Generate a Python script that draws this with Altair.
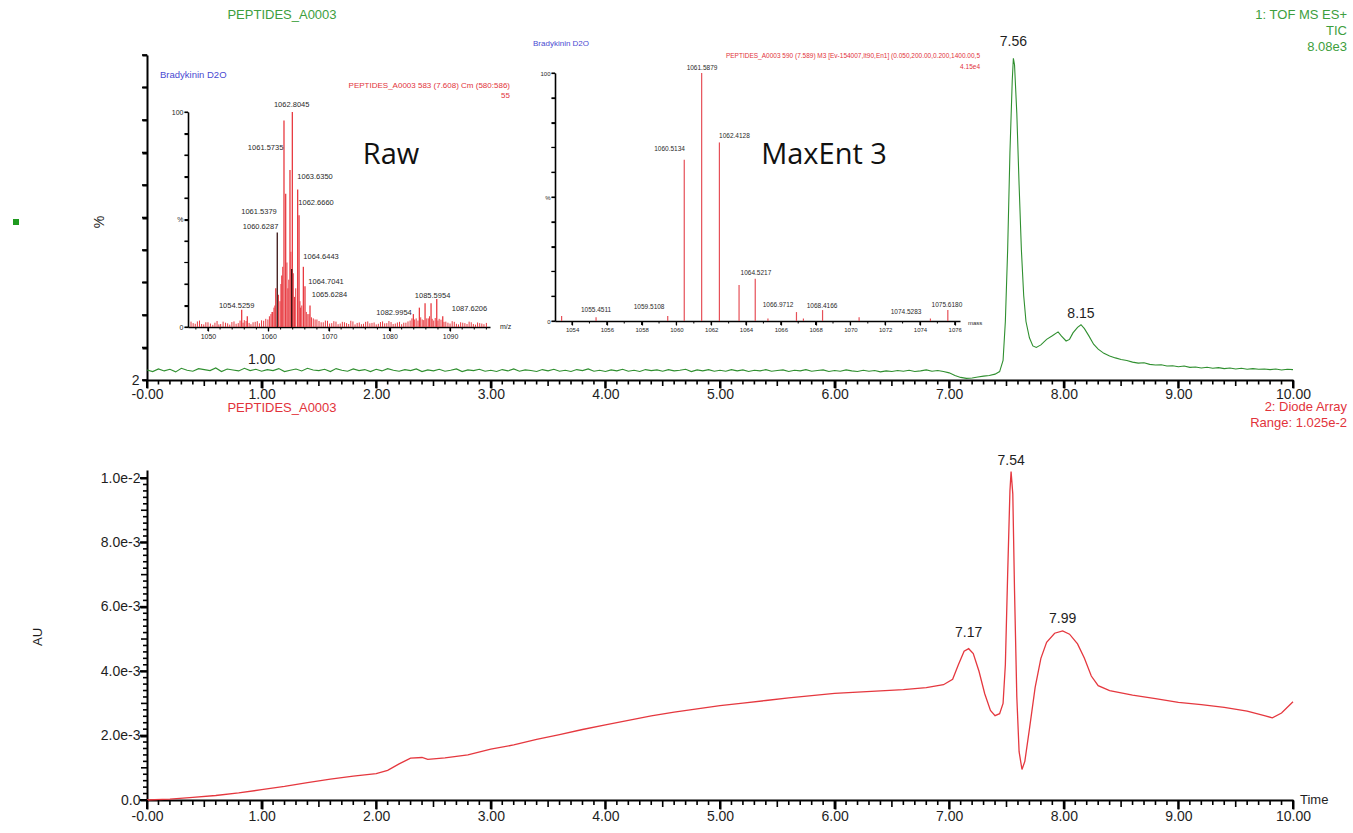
import altair as alt
import pandas as pd

# ---------------- layout (plot-area pixels) ----------------
W, H = 1146, 745
TOP_H = 325          # top panel occupies y in [0, TOP_H]
BOT_TOP = 415        # bottom panel occupies y in [BOT_TOP, H]

FONT = "Liberation Sans"
GREEN_LINE = "#2f8f2f"
GREEN_TEXT = "#3d9e3d"
RED_LINE = "#e5383f"
RED_TEXT = "#e2333b"
STICK_RED = "#e83a40"
STICK_DARK = "#3a1414"
BLUE_TEXT = "#4a4ad2"
INK = "#1e1e1e"

# ---------------- data: TIC (top trace, % of 8.08e3) ----------------
TIC_BASE_TIME = [round(i * 0.05, 2) for i in range(140)]
TIC_BASE_PCT = [
    3.1, 2.6, 3.4, 2.8, 3.3, 2.5, 3.6, 3.0, 2.7, 3.5,
    3.2, 2.9, 3.7, 2.6, 3.4, 3.1, 2.8, 3.6, 2.9, 3.3,
    2.7, 3.2, 2.9, 3.5, 2.6, 3.0, 3.4, 2.8, 3.6, 3.1,
    2.9, 3.3, 2.6, 3.5, 3.0, 2.7, 3.4, 2.9, 3.2, 2.6,
    3.3, 2.8, 3.5, 3.0, 2.7, 3.2, 2.9, 3.4, 2.6, 3.1,
    2.8, 3.3, 2.7, 3.0, 3.4, 2.6, 3.1, 2.9, 3.3, 2.7,
    3.0, 2.6, 3.2, 2.8, 3.4, 2.7, 3.1, 2.9, 2.6, 3.2,
    2.8, 3.3, 2.7, 3.0, 2.6, 3.2, 2.9, 3.4, 2.7, 3.0,
    2.6, 3.1, 2.8, 3.3, 2.7, 3.0, 2.6, 3.2, 2.9, 3.1,
    2.7, 3.2, 2.8, 3.0, 3.3, 2.6, 3.1, 2.8, 3.2, 2.7,
    3.0, 2.7, 3.2, 2.8, 3.1, 2.6, 3.0, 2.8, 3.2, 2.7,
    2.9, 3.1, 2.6, 3.0, 2.8, 3.2, 2.7, 2.9, 3.1, 2.6,
    2.9, 2.7, 3.1, 2.8, 2.6, 3.0, 2.7, 2.9, 2.5, 2.8,
    2.6, 2.9, 2.7, 3.0, 2.6, 2.8, 3.1, 2.7, 2.9, 2.6,
]
TIC_PEAK_TIME = [
    7.00, 7.05, 7.10, 7.15, 7.20, 7.25, 7.30, 7.35, 7.40,
    7.44, 7.47, 7.49, 7.51, 7.53, 7.55, 7.56, 7.57, 7.59, 7.61, 7.63, 7.65, 7.67,
    7.70, 7.73, 7.76, 7.80, 7.85, 7.90, 7.95, 7.98,
    8.02, 8.05, 8.08, 8.12, 8.15, 8.18, 8.22, 8.26, 8.30, 8.35, 8.40, 8.45,
    8.50, 8.55, 8.60, 8.65, 8.70, 8.75, 8.80, 8.85, 8.90, 8.95, 9.00, 9.05,
    9.10, 9.15, 9.20, 9.25, 9.30, 9.35, 9.40, 9.45, 9.50, 9.55, 9.60, 9.65,
    9.70, 9.75, 9.80, 9.85, 9.90, 9.95, 10.00,
]
TIC_PEAK_PCT = [
    2.2, 1.4, 0.8, 0.5, 0.6, 0.9, 1.2, 1.4, 1.8,
    2.6, 6.0, 18, 40, 70, 92, 99, 97, 82, 60, 40, 26, 18,
    13, 10.5, 10.0, 10.8, 12.5, 13.6, 14.8, 13.5,
    12.0, 12.5, 14.5, 16.2, 17.0, 15.8, 13.5, 11.0, 9.5, 8.2, 7.4, 6.8,
    6.3, 6.0, 5.5, 5.2, 5.3, 4.8, 4.6, 4.7, 4.3, 4.4, 4.1, 4.3,
    3.9, 4.0, 3.7, 3.9, 3.6, 3.8, 3.5, 3.7, 3.4, 3.6, 3.3, 3.5,
    3.3, 3.4, 3.2, 3.4, 3.1, 3.3, 3.2,
]
TIC_LABELS = ["7.56", "8.15", "1.00"]
TIC_LABEL_TIME = [7.56, 8.15, 1.00]
TIC_LABEL_PCT = [104, 20.3, 6.2]

# ---------------- data: Diode array (bottom trace, units of 1e-3 AU) ----------------
AU_TIME = [0.0, 0.2, 0.4, 0.6, 0.8, 1.0, 1.2, 1.4, 1.6, 1.8,
           2.0, 2.1, 2.2, 2.3, 2.4, 2.45, 2.5, 2.6, 2.8, 3.0,
           3.2, 3.4, 3.6, 3.8, 4.0, 4.2, 4.4, 4.6, 4.8, 5.0,
           5.2, 5.4, 5.6, 5.8, 6.0, 6.2, 6.4, 6.6, 6.8, 6.95,
           7.03, 7.08, 7.13, 7.17, 7.21, 7.26, 7.31, 7.36, 7.40, 7.44,
           7.47, 7.49, 7.51, 7.53, 7.54, 7.555, 7.57, 7.59, 7.61, 7.635,
           7.66, 7.70, 7.75, 7.80, 7.85, 7.92, 7.99, 8.05, 8.12, 8.18,
           8.24, 8.30, 8.40, 8.60, 8.80, 9.00, 9.20, 9.40, 9.60, 9.75,
           9.82, 9.90, 10.0]
AU_VAL = [0.00, 0.03, 0.08, 0.14, 0.22, 0.32, 0.42, 0.54, 0.65, 0.74,
          0.82, 0.92, 1.12, 1.30, 1.32, 1.26, 1.28, 1.31, 1.40, 1.58,
          1.71, 1.88, 2.03, 2.19, 2.33, 2.47, 2.61, 2.73, 2.83, 2.93,
          3.01, 3.09, 3.17, 3.24, 3.31, 3.35, 3.39, 3.43, 3.49, 3.58,
          3.75, 4.20, 4.62, 4.70, 4.55, 4.00, 3.30, 2.78, 2.62, 2.68,
          3.00, 4.20, 7.00, 9.60, 10.20, 9.50, 6.50, 3.20, 1.50, 0.95,
          1.20, 2.20, 3.50, 4.40, 4.90, 5.18, 5.25, 5.15, 4.85, 4.40,
          3.85, 3.55, 3.40, 3.26, 3.15, 3.03, 2.96, 2.88, 2.76, 2.62,
          2.55, 2.70, 3.05]
AU_LABELS = ["7.54", "7.17", "7.99"]
AU_LABEL_TIME = [7.54, 7.17, 7.99]
AU_LABEL_VAL = [10.53, 5.19, 5.62]

# ---------------- data: inset 1 (raw spectrum) ----------------
RAW_PEAK_MZ = [1062.56, 1062.84, 1063.55, 1063.94, 1064.82, 1065.05, 1065.76, 1066.03,
               1066.86, 1055.57, 1056.5, 1083.94, 1084.93, 1085.87, 1086.86, 1087.8,
               1088.79, 1061.2, 1062.2, 1060.6]
RAW_PEAK_PCT = [96, 62, 73, 100, 64, 52, 28, 19, 10, 8, 5, 6, 9, 11, 11, 13, 5, 18, 24, 7]
RAW_DARK_MZ = [1061.45, 1063.83]
RAW_DARK_PCT = [44, 27]
RAW_NOISE_MZ = [1047.2, 1047.9, 1048.6, 1049.3, 1050.0, 1050.8, 1051.5, 1052.1, 1052.9, 1053.6,
                1054.3, 1055.0, 1056.0, 1057.1, 1057.8, 1058.5, 1059.2, 1059.9, 1060.4, 1060.9,
                1061.9, 1063.2, 1064.3, 1065.3, 1066.5, 1067.4, 1068.0, 1068.7, 1069.4, 1070.1,
                1070.8, 1071.5, 1072.2, 1072.9, 1073.6, 1074.3, 1075.0, 1075.7, 1076.4, 1077.1,
                1077.8, 1078.5, 1079.2, 1079.9, 1080.6, 1081.3, 1082.0, 1082.7, 1083.4, 1084.4,
                1085.4, 1086.4, 1087.3, 1088.2, 1089.3, 1090.0, 1090.7, 1091.4, 1092.1, 1092.8,
                1093.5, 1094.2, 1094.9, 1095.6]
RAW_NOISE_PCT = [2.5, 1.5, 3.0, 1.2, 2.2, 1.0, 2.8, 1.4, 2.0, 1.1,
                 2.6, 1.8, 3.2, 1.3, 2.4, 1.7, 2.9, 3.5, 6.0, 9.0,
                 12, 18, 14, 9.0, 6.0, 4.0, 3.5, 2.2, 3.0, 1.6,
                 2.7, 1.3, 2.4, 1.8, 2.9, 1.2, 2.1, 1.5, 2.6, 1.9,
                 1.2, 2.3, 1.7, 2.8, 1.4, 2.1, 1.3, 2.0, 3.0, 4.0,
                 3.5, 4.0, 3.0, 3.8, 2.5, 1.6, 2.4, 1.2, 2.0, 1.4,
                 2.2, 1.1, 1.8, 1.3]
RAW_NOISE2_MZ = [1047.55, 1048.25, 1048.95, 1049.65, 1050.4, 1051.15, 1051.8, 1052.5, 1053.25, 1053.95,
                 1054.65, 1055.3, 1055.8, 1056.3, 1056.8, 1057.45, 1058.15, 1058.85, 1059.55, 1060.15,
                 1060.7, 1061.05, 1061.65, 1062.05, 1062.35, 1063.05, 1063.35, 1063.7, 1064.1, 1064.5,
                 1065.2, 1065.5, 1066.25, 1066.7, 1067.1, 1067.7, 1068.35, 1069.05, 1069.75, 1070.45,
                 1071.15, 1071.85, 1072.55, 1073.25, 1073.95, 1074.65, 1075.35, 1076.05, 1076.75, 1077.45,
                 1078.15, 1078.85, 1079.55, 1080.25, 1080.95, 1081.65, 1082.35, 1083.05, 1083.7, 1084.15,
                 1084.7, 1085.15, 1085.65, 1086.15, 1086.6, 1087.05, 1087.55, 1088.0, 1088.5, 1089.0,
                 1089.65, 1090.35, 1091.05, 1091.75, 1092.45, 1093.15, 1093.85, 1094.55, 1095.25, 1096.0]
RAW_NOISE2_PCT = [1.8, 2.6, 1.4, 2.2, 1.6, 2.0, 1.2, 2.5, 1.7, 2.3,
                  1.5, 3.0, 2.0, 2.8, 1.9, 2.2, 2.7, 3.1, 3.8, 5.0,
                  7.0, 10, 15, 20, 28, 30, 22, 35, 25, 18,
                  12, 10, 7.0, 6.0, 4.5, 3.5, 2.8, 2.2, 2.9, 1.8,
                  2.5, 1.6, 2.2, 1.4, 2.6, 1.9, 1.3, 2.4, 1.7, 2.1,
                  1.5, 2.6, 1.8, 2.3, 1.6, 2.4, 2.0, 2.6, 4.0, 3.5,
                  3.0, 4.5, 3.2, 4.0, 5.0, 3.8, 4.2, 3.0, 3.4, 2.4,
                  2.0, 2.7, 1.5, 2.2, 1.8, 2.5, 1.4, 2.1, 1.6, 1.9]
RAW_LABELS = ["1062.8045", "1061.5735", "1063.6350", "1062.6660", "1061.5379", "1060.6287",
              "1064.6443", "1064.7041", "1065.6284", "1054.5259", "1082.9954", "1085.5954",
              "1087.6206"]
RAW_LABEL_MZ = [1063.83, 1062.45, 1064.76, 1064.93, 1061.36, 1061.62, 1065.75, 1066.58,
                1067.14, 1054.74, 1083.67, 1087.11, 1090.28]
RAW_LABEL_PCT = [103.3, 83.1, 69.9, 57.7, 53.6, 46.7, 32.7, 21.1, 14.9, 9.8, 6.7, 14.4, 8.2]
RAW_LABEL_ALIGN = ["center", "right", "left", "left", "right", "right", "left", "left",
                   "left", "center", "right", "center", "left"]
RAW_TICKS = [1050, 1060, 1070, 1080, 1090]
RAW_MINOR = [1048, 1052, 1054, 1056, 1058, 1062, 1064, 1066, 1068, 1072, 1074, 1076, 1078,
             1082, 1084, 1086, 1088, 1092, 1094, 1096]

# ---------------- data: inset 2 (MaxEnt 3) ----------------
ME_MZ = [1053.4, 1055.38, 1059.5, 1060.45, 1061.45, 1062.47, 1063.6, 1064.53, 1065.26,
         1066.9, 1067.3, 1068.4, 1070.5, 1074.6, 1075.6]
ME_PCT = [2.0, 1.5, 2.0, 65, 100, 72, 14.5, 17, 1.0, 3.6, 1.0, 4.4, 1.5, 1.0, 4.4]
ME_LABELS = ["1061.5879", "1060.5134", "1062.4128", "1064.5217", "1055.4511", "1059.5108",
             "1066.9712", "1068.4166", "1074.5283", "1075.6180"]
ME_LABEL_MZ = [1061.47, 1060.49, 1062.45, 1064.57, 1055.38, 1058.43, 1065.84, 1068.37,
               1073.2, 1075.55]
ME_LABEL_PCT = [102, 69.4, 74.6, 19.4, 4.4, 5.6, 6.5, 6.0, 3.6, 6.5]
ME_LABEL_ALIGN = ["center", "right", "left", "center", "center", "center", "center",
                  "center", "center", "center"]
ME_TICKS = [1054, 1056, 1058, 1060, 1062, 1064, 1066, 1068, 1070, 1072, 1074, 1076]
ME_MINOR = [1055, 1057, 1059, 1061, 1063, 1065, 1067, 1069, 1071, 1073, 1075]

# ---------------- axis tick values ----------------
T_MAJOR = [0, 1, 2, 3, 4, 5, 6, 7, 8, 9, 10]
T_MEDIUM = [0.5 + i for i in range(10)]
T_MINOR = [round(i / 10, 1) for i in range(101) if i % 5 != 0]
AU_MAJOR = [0, 2, 4, 6, 8, 10]
AU_MEDIUM = [1, 3, 5, 7, 9]
AU_MINOR = [round(i / 5, 1) for i in range(51) if i % 5 != 0]
PCT_TICKS = [0, 10, 20, 30, 40, 50, 60, 70, 80, 90, 100]


# ---------------- helpers ----------------
def scale(domain, rng):
    return alt.Scale(domain=domain, range=rng, nice=False, zero=False)


def axis(orient, offset, values, expr=None, tick=6, size=14, dwidth=2.0, twidth=2.0, pad=2,
         color=INK, fmt=None):
    kw = dict(orient=orient, offset=offset, values=values, title=None, grid=False,
              ticks=True, tickSize=tick, tickColor="#000000", tickWidth=twidth,
              domain=True, domainColor="#000000", domainWidth=dwidth,
              labelFont=FONT, labelFontSize=size, labelColor=color, labelPadding=pad,
              labelOverlap=False, labelFlush=False)
    if expr is not None:
        kw["labelExpr"] = expr
    if fmt is not None:
        kw["format"] = fmt
    return alt.Axis(**kw)


def x_ticks(values, xdom, xrng, ydom, yrng, length_px, width=1.6):
    """Small filled bars hanging below the baseline (minimum of the y scale)."""
    df = pd.DataFrame({"v": values, "b": [ydom[0]] * len(values)})
    return alt.Chart(df).mark_rect(
        color="#000000", opacity=1,
        xOffset=-width / 2, x2Offset=width / 2, yOffset=0, y2Offset=length_px).encode(
        x=alt.X("v:Q", scale=scale(xdom, xrng), axis=None),
        x2=alt.X2("v:Q"),
        y=alt.Y("b:Q", scale=scale(ydom, yrng), axis=None),
        y2=alt.Y2("b:Q"))


def y_ticks(values, xdom, xrng, ydom, yrng, length_px, width=1.6):
    """Small filled bars pointing left of the y axis (minimum of the x scale)."""
    df = pd.DataFrame({"v": values, "b": [xdom[0]] * len(values)})
    return alt.Chart(df).mark_rect(
        color="#000000", opacity=1,
        xOffset=-length_px, x2Offset=0, yOffset=-width / 2, y2Offset=width / 2).encode(
        y=alt.Y("v:Q", scale=scale(ydom, yrng), axis=None),
        y2=alt.Y2("v:Q"),
        x=alt.X("b:Q", scale=scale(xdom, xrng), axis=None),
        x2=alt.X2("b:Q"))


def note(text, x, y, size=13, color=INK, align="center", baseline="middle", font=FONT,
         angle=None):
    kw = dict(fontSize=size, color=color, align=align, baseline=baseline, font=font)
    if angle is not None:
        kw["angle"] = angle
    return (alt.Chart(pd.DataFrame({"t": [text]})).mark_text(**kw)
            .encode(text="t:N", x=alt.value(x), y=alt.value(y)))


XLAB = "datum.value == 0 ? '-0.00' : format(datum.value, '.2f')"
PCTLAB = "datum.value == 100 ? '100' : (datum.value == 50 ? '%' : (datum.value == 0 ? '0' : ''))"
AULAB = ("datum.value == 0 ? '0.0' : (datum.value == 10 ? '1.0e-2' : "
         "format(datum.value, '.1f') + 'e-3')")

TX = [0, 10]
XR = [0, W]
TOP_YD, TOP_YR = [0, 100], [TOP_H, 0]
BOT_YD, BOT_YR = [0, 10.25], [H, BOT_TOP]
R_XD, R_XR = [1046.7, 1096.6], [41, 343]
R_YD, R_YR = [0, 100], [272, 57]
M_XD, M_XR = [1053.02, 1076.3], [408, 813]
M_YD, M_YR = [0, 100], [266, 18]

layers = []

# ---------------- top panel: TIC ----------------
tic_df = pd.DataFrame({"t": TIC_BASE_TIME + TIC_PEAK_TIME, "p": TIC_BASE_PCT + TIC_PEAK_PCT})
layers.append(
    alt.Chart(tic_df).mark_line(color=GREEN_LINE, strokeWidth=1.1).encode(
        x=alt.X("t:Q", scale=scale(TX, XR),
                axis=axis("bottom", -(H - TOP_H), T_MAJOR, XLAB, tick=8, pad=-1)),
        y=alt.Y("p:Q", scale=scale(TOP_YD, TOP_YR),
                axis=axis("left", 0, PCT_TICKS, "datum.value == 0 ? '2' : ''", tick=5, pad=3)),
    )
)
tic_lab = pd.DataFrame({"t": TIC_LABEL_TIME, "p": TIC_LABEL_PCT, "s": TIC_LABELS})
layers.append(
    alt.Chart(tic_lab).mark_text(font=FONT, fontSize=14, color=INK).encode(
        x=alt.X("t:Q", scale=scale(TX, XR), axis=None),
        y=alt.Y("p:Q", scale=scale(TOP_YD, TOP_YR), axis=None),
        text="s:N",
    )
)

# ---------------- bottom panel: diode array ----------------
au_df = pd.DataFrame({"t": AU_TIME, "v": AU_VAL})
layers.append(
    alt.Chart(au_df).mark_line(color=RED_LINE, strokeWidth=1.3).encode(
        x=alt.X("t:Q", scale=scale(TX, XR),
                axis=axis("bottom", 0, T_MAJOR, XLAB, tick=9, pad=0)),
        y=alt.Y("v:Q", scale=scale(BOT_YD, BOT_YR),
                axis=axis("left", 0, AU_MAJOR, AULAB, tick=7, pad=0)),
    )
)
au_lab = pd.DataFrame({"t": AU_LABEL_TIME, "v": AU_LABEL_VAL, "s": AU_LABELS})
layers.append(
    alt.Chart(au_lab).mark_text(font=FONT, fontSize=14, color=INK).encode(
        x=alt.X("t:Q", scale=scale(TX, XR), axis=None),
        y=alt.Y("v:Q", scale=scale(BOT_YD, BOT_YR), axis=None),
        text="s:N",
    )
)

# ---------------- inset 1: raw spectrum ----------------
for mzs, pcts in [(RAW_NOISE_MZ, RAW_NOISE_PCT), (RAW_NOISE2_MZ, RAW_NOISE2_PCT)]:
    layers.append(
        alt.Chart(pd.DataFrame({"mz": mzs, "p": pcts})).mark_rule(
            color=STICK_RED, strokeWidth=1).encode(
            x=alt.X("mz:Q", scale=scale(R_XD, R_XR), axis=None),
            y=alt.Y("p:Q", scale=scale(R_YD, R_YR), axis=None),
            y2=alt.Y2Datum(0),
        )
    )
raw_peak = pd.DataFrame({"mz": RAW_PEAK_MZ, "p": RAW_PEAK_PCT})
raw_dark = pd.DataFrame({"mz": RAW_DARK_MZ, "p": RAW_DARK_PCT})
layers.append(
    alt.Chart(raw_peak).mark_rule(color=STICK_RED, strokeWidth=1.3).encode(
        x=alt.X("mz:Q", scale=scale(R_XD, R_XR),
                axis=axis("bottom", -(H - 272), RAW_TICKS, tick=4, size=7, dwidth=1.6,
                          twidth=1.2, pad=1, fmt="d")),
        y=alt.Y("p:Q", scale=scale(R_YD, R_YR),
                axis=axis("left", -41, PCT_TICKS, PCTLAB, tick=4, size=7, dwidth=1.6,
                          twidth=1.2, pad=1)),
        y2=alt.Y2Datum(0),
    )
)
layers.append(
    alt.Chart(raw_dark).mark_rule(color=STICK_DARK, strokeWidth=1.3).encode(
        x=alt.X("mz:Q", scale=scale(R_XD, R_XR), axis=None),
        y=alt.Y("p:Q", scale=scale(R_YD, R_YR), axis=None),
        y2=alt.Y2Datum(0),
    )
)
raw_lab = pd.DataFrame({"mz": RAW_LABEL_MZ, "p": RAW_LABEL_PCT, "s": RAW_LABELS,
                        "a": RAW_LABEL_ALIGN})
for al in ["left", "center", "right"]:
    layers.append(
        alt.Chart(raw_lab).transform_filter(alt.datum.a == al)
        .mark_text(font=FONT, fontSize=7.5, color="#2a2a2a", align=al).encode(
            x=alt.X("mz:Q", scale=scale(R_XD, R_XR), axis=None),
            y=alt.Y("p:Q", scale=scale(R_YD, R_YR), axis=None),
            text="s:N",
        )
    )

# ---------------- inset 2: MaxEnt 3 ----------------
me_df = pd.DataFrame({"mz": ME_MZ, "p": ME_PCT})
layers.append(
    alt.Chart(me_df).mark_rule(color="#e65058", strokeWidth=1.2).encode(
        x=alt.X("mz:Q", scale=scale(M_XD, M_XR),
                axis=axis("bottom", -(H - 266), ME_TICKS, tick=4, size=6, dwidth=1.6,
                          twidth=1.2, pad=1, fmt="d")),
        y=alt.Y("p:Q", scale=scale(M_YD, M_YR),
                axis=axis("left", -408, PCT_TICKS, PCTLAB, tick=4, size=6, dwidth=1.6,
                          twidth=1.2, pad=1)),
        y2=alt.Y2Datum(0),
    )
)
me_lab = pd.DataFrame({"mz": ME_LABEL_MZ, "p": ME_LABEL_PCT, "s": ME_LABELS,
                       "a": ME_LABEL_ALIGN})
for al in ["left", "center", "right"]:
    layers.append(
        alt.Chart(me_lab).transform_filter(alt.datum.a == al)
        .mark_text(font=FONT, fontSize=6.5, color="#2a2a2a", align=al).encode(
            x=alt.X("mz:Q", scale=scale(M_XD, M_XR), axis=None),
            y=alt.Y("p:Q", scale=scale(M_YD, M_YR), axis=None),
            text="s:N",
        )
    )

# ---------------- text annotations ----------------
layers += [
    note("PEPTIDES_A0003", 135, -40, 13, GREEN_TEXT),
    note("1: TOF MS ES+", 1200, -40, 13, GREEN_TEXT, align="right"),
    note("TIC", 1200, -24, 13, GREEN_TEXT, align="right"),
    note("8.08e3", 1200, -8, 13, GREEN_TEXT, align="right"),
    note("%", -47, 167, 14, INK, angle=270),
    note("PEPTIDES_A0003", 135, 353, 13, RED_TEXT),
    note("2: Diode Array", 1200, 352, 13, RED_TEXT, align="right"),
    note("Range: 1.025e-2", 1200, 368, 13, RED_TEXT, align="right"),
    note("AU", -109, 582, 13, INK, angle=270),
    note("Time", 1153, 745, 13, INK, align="left"),
    # inset 1
    note("Bradykinin D2O", 13, 20, 9.5, BLUE_TEXT, align="left"),
    note("PEPTIDES_A0003 583 (7.608) Cm (580:586)", 363, 31, 8, RED_TEXT, align="right"),
    note("55", 363, 41, 8, RED_TEXT, align="right"),
    note("m/z", 353, 272, 7, INK, align="left"),
    note("Raw", 244, 100, 29, "#111111", font="Open Sans"),
    # inset 2
    note("Bradykinin D2O", 386, -11, 8, BLUE_TEXT, align="left"),
    note("PEPTIDES_A0003 590 (7.589) M3 [Ev-154007,It90,En1] (0.050,200.00,0.200,1400.00,5",
         833, 1, 6.5, RED_TEXT, align="right"),
    note("4.15e4", 833, 12, 6.5, RED_TEXT, align="right"),
    note("mass", 821, 268, 6, INK, align="left"),
    note("MaxEnt 3", 677, 100, 29, "#111111", font="Open Sans"),
]
layers.append(
    alt.Chart(pd.DataFrame({"k": ["tic"]})).mark_square(size=36, color="#1f9a1f", opacity=1)
    .encode(x=alt.value(-131), y=alt.value(167))
)

# ---------------- tick marks (drawn last, on top of everything) ----------------
layers += [
    x_ticks(T_MAJOR, TX, XR, TOP_YD, TOP_YR, 8, width=2),
    x_ticks(T_MEDIUM, TX, XR, TOP_YD, TOP_YR, 6),
    x_ticks(T_MINOR, TX, XR, TOP_YD, TOP_YR, 4.5),
    y_ticks(PCT_TICKS, TX, XR, TOP_YD, TOP_YR, 5),
    x_ticks(T_MAJOR, TX, XR, BOT_YD, BOT_YR, 9, width=2),
    x_ticks(T_MEDIUM, TX, XR, BOT_YD, BOT_YR, 7),
    x_ticks(T_MINOR, TX, XR, BOT_YD, BOT_YR, 5),
    y_ticks(AU_MAJOR, TX, XR, BOT_YD, BOT_YR, 7, width=2),
    y_ticks(AU_MEDIUM, TX, XR, BOT_YD, BOT_YR, 6),
    y_ticks(AU_MINOR, TX, XR, BOT_YD, BOT_YR, 4),
    x_ticks(RAW_TICKS, R_XD, R_XR, R_YD, R_YR, 4, width=1.2),
    x_ticks(RAW_MINOR, R_XD, R_XR, R_YD, R_YR, 2.5, width=1.0),
    y_ticks(PCT_TICKS, R_XD, R_XR, R_YD, R_YR, 3.5, width=1.0),
    x_ticks(ME_TICKS, M_XD, M_XR, M_YD, M_YR, 4, width=1.2),
    x_ticks(ME_MINOR, M_XD, M_XR, M_YD, M_YR, 2.5, width=1.0),
    y_ticks(PCT_TICKS, M_XD, M_XR, M_YD, M_YR, 3.5, width=1.0),
]

chart = (
    alt.layer(*layers)
    .resolve_scale(x="independent", y="independent")
    .resolve_axis(x="independent", y="independent")
    .properties(
        width=W, height=H,
        autosize=alt.AutoSizeParams(type="none"),
        padding={"left": 147, "top": 55, "right": 60, "bottom": 33},
        background="white",
    )
    .configure_view(stroke=None)
)

chart.save("out.html", embed_options={"renderer": "svg", "actions": False})
